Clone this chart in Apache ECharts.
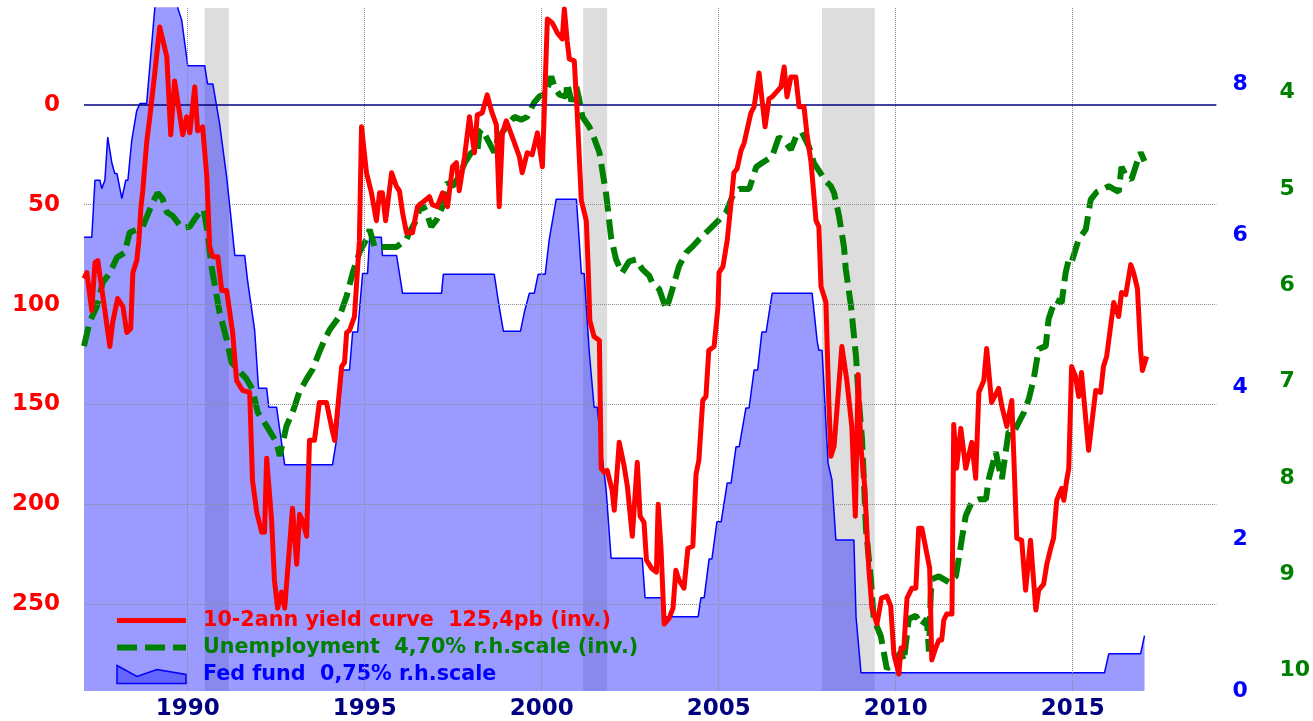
<!DOCTYPE html>
<html>
<head>
<meta charset="utf-8">
<script src="https://cdn.jsdelivr.net/npm/echarts@6/dist/echarts.min.js"></script>
<style>
  html, body { margin: 0; padding: 0; background: #fff; }
  #chart { width: 1313px; height: 721px; }
</style>
</head>
<body>
<div id="chart"></div>
<script>
// tick labels
const yearTicks = [1990, 1995, 2000, 2005, 2010, 2015]
const spreadTicks = [0, 50, 100, 150, 200, 250]
const fedTicks = [0, 2, 4, 6, 8]
const unempTicks = [4, 5, 6, 7, 8, 9, 10]

// recessions (start, end), decimal years
const recessions = [[1990.48, 1991.16], [2001.17, 2001.85], [2007.92, 2009.41]]

const spreadName = '10-2ann yield curve  125,4pb (inv.)'
const unempName = 'Unemployment  4,70% r.h.scale (inv.)'
const fedName = 'Fed fund  0,75% r.h.scale'

// 10y-2y spread, bp (left scale, inverted)
const yieldCurve = [
  [1987.07, 87], [1987.15, 84], [1987.29, 103], [1987.38, 79], [1987.46, 78], [1987.66, 103], [1987.8, 121],
  [1987.88, 109], [1988.02, 97], [1988.17, 101], [1988.28, 114], [1988.39, 112], [1988.45, 84], [1988.56, 78],
  [1988.62, 68], [1988.68, 51], [1988.73, 43], [1988.84, 19], [1988.93, 6], [1989.07, -16], [1989.21, -39],
  [1989.41, -24], [1989.52, 15], [1989.63, -12], [1989.86, 15], [1989.97, 6], [1990.06, 14], [1990.2, -9],
  [1990.28, 13], [1990.42, 11], [1990.54, 36], [1990.62, 71], [1990.71, 76], [1990.85, 76], [1990.96, 93],
  [1991.1, 93], [1991.27, 114], [1991.38, 138], [1991.55, 143], [1991.75, 144], [1991.83, 188], [1991.95, 204],
  [1992.09, 214], [1992.17, 214], [1992.23, 177], [1992.37, 208], [1992.45, 238], [1992.54, 252], [1992.65, 244],
  [1992.74, 252], [1992.96, 202], [1993.08, 230], [1993.16, 205], [1993.24, 208], [1993.36, 216], [1993.44, 168],
  [1993.58, 168], [1993.72, 149], [1993.92, 149], [1994.06, 161], [1994.15, 168], [1994.35, 131], [1994.43, 129],
  [1994.49, 114], [1994.57, 113], [1994.71, 106], [1994.85, 68], [1994.91, 11], [1995.05, 34], [1995.19, 44],
  [1995.33, 58], [1995.42, 44], [1995.5, 44], [1995.59, 58], [1995.76, 34], [1995.9, 41], [1995.98, 43],
  [1996.07, 54], [1996.18, 64], [1996.35, 64], [1996.49, 51], [1996.83, 46], [1996.91, 50], [1997.05, 51],
  [1997.2, 44], [1997.34, 51], [1997.48, 31], [1997.59, 29], [1997.67, 43], [1997.82, 26], [1997.96, 6],
  [1998.1, 24], [1998.18, 5], [1998.32, 4], [1998.46, -5], [1998.58, 3], [1998.72, 10], [1998.8, 51],
  [1998.89, 14], [1999.0, 8], [1999.23, 19], [1999.37, 26], [1999.45, 34], [1999.59, 24], [1999.73, 25],
  [1999.88, 14], [2000.02, 31], [2000.16, -43], [2000.3, -41], [2000.44, -36], [2000.58, -33], [2000.64, -48],
  [2000.72, -32], [2000.78, -23], [2000.92, -22], [2001.0, 3], [2001.12, 48], [2001.26, 58], [2001.31, 80],
  [2001.36, 108], [2001.48, 116], [2001.63, 118], [2001.68, 182], [2001.77, 184], [2001.85, 183], [2001.99, 193],
  [2002.05, 203], [2002.19, 169], [2002.33, 181], [2002.42, 191], [2002.56, 216], [2002.7, 179], [2002.78, 206],
  [2002.89, 209], [2002.96, 228], [2003.1, 232], [2003.24, 234], [2003.29, 200], [2003.37, 222], [2003.46, 260],
  [2003.6, 257], [2003.71, 252], [2003.79, 233], [2003.88, 238], [2004.02, 242], [2004.13, 222], [2004.27, 221],
  [2004.36, 185], [2004.44, 178], [2004.55, 148], [2004.64, 146], [2004.72, 123], [2004.87, 121], [2004.98, 101],
  [2005.01, 84], [2005.12, 81], [2005.24, 68], [2005.35, 49], [2005.43, 34], [2005.52, 32], [2005.63, 23],
  [2005.72, 19], [2005.91, 4], [2006.0, 1], [2006.14, -16], [2006.31, 11], [2006.42, -3], [2006.51, -4],
  [2006.76, -9], [2006.85, -19], [2006.93, -4], [2007.04, -14], [2007.18, -14], [2007.27, 1], [2007.41, 1],
  [2007.49, 14], [2007.61, 29], [2007.75, 58], [2007.83, 61], [2007.89, 91], [2008.03, 99], [2008.11, 148],
  [2008.17, 176], [2008.26, 171], [2008.48, 121], [2008.62, 138], [2008.76, 161], [2008.86, 206], [2008.94, 135],
  [2009.02, 172], [2009.12, 190], [2009.24, 232], [2009.33, 252], [2009.47, 260], [2009.6, 247], [2009.75, 246],
  [2009.86, 251], [2009.95, 275], [2010.09, 285], [2010.15, 272], [2010.23, 272], [2010.32, 247], [2010.46, 242],
  [2010.57, 242], [2010.65, 212], [2010.74, 212], [2010.85, 222], [2010.96, 232], [2011.02, 278], [2011.13, 272],
  [2011.22, 268], [2011.3, 268], [2011.36, 258], [2011.44, 255], [2011.59, 255], [2011.64, 160], [2011.72, 182],
  [2011.84, 162], [2011.98, 182], [2012.15, 169], [2012.26, 187], [2012.35, 144], [2012.49, 138], [2012.57, 122],
  [2012.71, 149], [2012.91, 142], [2013.0, 151], [2013.14, 161], [2013.28, 148], [2013.42, 217], [2013.56, 218],
  [2013.67, 243], [2013.81, 218], [2013.96, 253], [2014.04, 243], [2014.18, 240], [2014.27, 230], [2014.38, 222],
  [2014.46, 217], [2014.55, 198], [2014.69, 192], [2014.75, 198], [2014.83, 188], [2014.89, 182], [2014.97, 131],
  [2015.08, 136], [2015.17, 146], [2015.25, 134], [2015.45, 173], [2015.65, 143], [2015.79, 144], [2015.87, 131],
  [2015.96, 126], [2016.16, 99], [2016.3, 106], [2016.38, 94], [2016.5, 95], [2016.64, 80], [2016.72, 84],
  [2016.83, 92], [2016.92, 123], [2016.97, 133], [2017.09, 126]
]

// unemployment rate, % (right scale, inverted)
const unemployment = [
  [1987.07, 6.63], [1987.23, 6.38], [1987.43, 6.22], [1987.6, 5.97], [1987.8, 5.87], [1988.0, 5.71], [1988.22, 5.66],
  [1988.36, 5.45], [1988.56, 5.42], [1988.73, 5.39], [1989.01, 5.14], [1989.15, 5.04], [1989.29, 5.1], [1989.41, 5.24],
  [1989.58, 5.28], [1989.83, 5.4], [1990.06, 5.39], [1990.2, 5.31], [1990.34, 5.24], [1990.45, 5.21], [1990.56, 5.45],
  [1990.67, 5.8], [1990.9, 6.28], [1991.1, 6.56], [1991.24, 6.8], [1991.41, 6.87], [1991.66, 6.97], [1991.83, 7.08],
  [1991.98, 7.32], [1992.23, 7.46], [1992.51, 7.63], [1992.6, 7.77], [1992.79, 7.46], [1992.96, 7.32], [1993.16, 7.1],
  [1993.36, 6.97], [1993.53, 6.87], [1993.72, 6.69], [1993.87, 6.56], [1994.01, 6.46], [1994.29, 6.32], [1994.49, 6.11],
  [1994.66, 5.87], [1994.85, 5.66], [1995.05, 5.52], [1995.14, 5.42], [1995.28, 5.6], [1995.62, 5.6], [1995.9, 5.6],
  [1996.18, 5.52], [1996.26, 5.45], [1996.46, 5.32], [1996.6, 5.14], [1996.74, 5.24], [1996.88, 5.39], [1997.03, 5.32],
  [1997.2, 5.18], [1997.34, 4.93], [1997.48, 4.97], [1997.67, 4.87], [1997.82, 4.73], [1998.01, 4.62], [1998.18, 4.62],
  [1998.24, 4.41], [1998.32, 4.38], [1998.52, 4.52], [1998.66, 4.62], [1998.75, 4.49], [1998.89, 4.41], [1999.09, 4.31],
  [1999.23, 4.25], [1999.42, 4.28], [1999.59, 4.25], [1999.79, 4.1], [1999.93, 4.04], [2000.13, 4.0], [2000.27, 3.83],
  [2000.36, 3.94], [2000.5, 4.02], [2000.69, 4.04], [2000.72, 3.9], [2000.84, 4.09], [2000.98, 3.94], [2001.06, 4.07],
  [2001.15, 4.25], [2001.34, 4.35], [2001.43, 4.42], [2001.63, 4.62], [2001.82, 5.05], [2001.96, 5.5], [2002.1, 5.73],
  [2002.27, 5.87], [2002.47, 5.75], [2002.67, 5.73], [2002.84, 5.83], [2003.04, 5.9], [2003.12, 5.97], [2003.32, 6.04],
  [2003.52, 6.25], [2003.69, 6.04], [2003.88, 5.8], [2004.08, 5.66], [2004.25, 5.6], [2004.45, 5.52], [2004.73, 5.42],
  [2005.01, 5.32], [2005.21, 5.24], [2005.38, 5.08], [2005.58, 5.0], [2005.86, 5.0], [2006.06, 4.77], [2006.22, 4.73],
  [2006.51, 4.66], [2006.7, 4.46], [2006.9, 4.52], [2007.04, 4.59], [2007.18, 4.46], [2007.35, 4.41], [2007.55, 4.56],
  [2007.69, 4.73], [2008.03, 4.92], [2008.17, 4.97], [2008.26, 5.04], [2008.4, 5.28], [2008.54, 5.6], [2008.59, 5.83],
  [2008.74, 6.22], [2008.88, 6.74], [2008.95, 7.15], [2009.05, 7.6], [2009.1, 8.0], [2009.16, 8.53], [2009.3, 9.05],
  [2009.38, 9.46], [2009.58, 9.64], [2009.75, 9.98], [2010.01, 9.88], [2010.15, 9.8], [2010.23, 9.9], [2010.37, 9.46],
  [2010.57, 9.43], [2010.74, 9.53], [2010.88, 9.46], [2010.94, 9.8], [2010.99, 9.22], [2011.02, 9.05], [2011.22, 9.02],
  [2011.5, 9.08], [2011.7, 9.02], [2011.78, 8.84], [2011.87, 8.63], [2011.98, 8.39], [2012.15, 8.25], [2012.35, 8.22],
  [2012.55, 8.22], [2012.63, 8.01], [2012.83, 7.73], [2012.91, 7.88], [2013.0, 8.01], [2013.19, 7.52], [2013.34, 7.52],
  [2013.62, 7.32], [2013.76, 7.18], [2013.9, 6.97], [2014.04, 6.66], [2014.24, 6.63], [2014.32, 6.35], [2014.41, 6.25],
  [2014.52, 6.15], [2014.69, 6.18], [2014.8, 5.87], [2014.89, 5.73], [2014.97, 5.76], [2015.17, 5.52], [2015.37, 5.42],
  [2015.51, 5.11], [2015.68, 5.03], [2016.02, 4.97], [2016.3, 5.03], [2016.38, 4.77], [2016.52, 4.87], [2016.66, 4.9],
  [2016.81, 4.73], [2016.92, 4.62], [2017.03, 4.71]
]

// fed funds rate, % (right scale)
const fedFunds = [
  [1987.07, 5.98], [1987.29, 5.98], [1987.38, 6.73], [1987.52, 6.73], [1987.57, 6.62], [1987.66, 6.73], [1987.74, 7.3],
  [1987.86, 6.95], [1987.94, 6.82], [1988.0, 6.82], [1988.14, 6.49], [1988.25, 6.73], [1988.31, 6.73], [1988.42, 7.26],
  [1988.56, 7.65], [1988.65, 7.74], [1988.84, 7.74], [1989.07, 9.0], [1989.15, 9.4], [1989.3, 9.8], [1989.45, 9.8],
  [1989.58, 9.4], [1989.72, 9.0], [1989.83, 8.84], [1990.0, 8.24], [1990.48, 8.24], [1990.56, 8.0], [1990.71, 8.0],
  [1990.9, 7.48], [1991.1, 6.77], [1991.19, 6.38], [1991.33, 5.74], [1991.61, 5.74], [1991.69, 5.41], [1991.89, 4.76],
  [1992.0, 3.99], [1992.23, 3.99], [1992.29, 3.74], [1992.51, 3.74], [1992.74, 2.98], [1994.09, 2.98], [1994.2, 3.3],
  [1994.37, 4.23], [1994.57, 4.23], [1994.66, 4.73], [1994.8, 4.73], [1994.94, 5.5], [1995.08, 5.5], [1995.14, 5.98],
  [1995.47, 5.98], [1995.5, 5.74], [1995.9, 5.74], [1996.07, 5.24], [1997.17, 5.24], [1997.22, 5.49], [1998.66, 5.49],
  [1998.8, 5.06], [1998.92, 4.74], [1999.4, 4.74], [1999.51, 4.99], [1999.65, 5.24], [1999.79, 5.24], [1999.9, 5.49],
  [2000.1, 5.49], [2000.21, 5.94], [2000.41, 6.48], [2000.98, 6.48], [2001.06, 5.94], [2001.12, 5.5], [2001.2, 5.5],
  [2001.34, 4.49], [2001.48, 3.74], [2001.57, 3.74], [2001.71, 3.09], [2001.82, 2.65], [2001.96, 1.75], [2002.84, 1.75],
  [2002.92, 1.23], [2003.4, 1.23], [2003.49, 0.98], [2004.42, 0.98], [2004.5, 1.23], [2004.59, 1.23], [2004.73, 1.74],
  [2004.81, 1.74], [2004.95, 2.23], [2005.07, 2.23], [2005.24, 2.74], [2005.35, 2.74], [2005.49, 3.22], [2005.58, 3.22],
  [2005.77, 3.73], [2005.86, 3.73], [2006.0, 4.23], [2006.1, 4.23], [2006.22, 4.73], [2006.34, 4.73], [2006.51, 5.24],
  [2007.64, 5.24], [2007.78, 4.62], [2007.83, 4.49], [2007.92, 4.49], [2008.09, 3.0], [2008.2, 2.78], [2008.31, 1.99],
  [2008.82, 1.99], [2008.88, 0.98], [2009.02, 0.24], [2015.9, 0.24], [2016.02, 0.49], [2016.92, 0.49], [2017.03, 0.73]
]

const font = 'DejaVu Sans'
const fedFill = 'rgba(40,40,255,0.47)'
const noSymbol = { color: 'rgba(0,0,0,0)', borderWidth: 0 }

const chart = echarts.init(document.getElementById('chart'))
chart.setOption({
  animation: false,
  backgroundColor: '#fff',
  grid: { left: 84, right: 95, top: 8, bottom: 29 },
  legend: {
    orient: 'vertical',
    left: 114,
    top: 610,
    padding: 0,
    itemWidth: 69,
    itemHeight: 18,
    itemGap: 6,
    symbolKeepAspect: false,
    textStyle: { fontFamily: font, fontWeight: 'bold', fontSize: 20.7, lineHeight: 20, padding: [0, 0, 0, 12] },
    data: [
      {
        name: spreadName,
        itemStyle: noSymbol,
        lineStyle: { width: 5, color: '#ff0000', type: 'solid' },
        textStyle: { color: '#ff0000' }
      },
      {
        name: unempName,
        itemStyle: noSymbol,
        lineStyle: { width: 6, color: '#008000', type: [20, 8], cap: 'butt' },
        textStyle: { color: '#008000' }
      },
      {
        name: fedName,
        icon: 'path://M0,0 L20,11 L40,4 L69,9 L69,18 L0,18 Z',
        itemStyle: { color: fedFill, borderColor: '#0000ff', borderWidth: 1.5 },
        textStyle: { color: '#0000ff' }
      }
    ]
  },
  xAxis: {
    type: 'value',
    min: 1987.07,
    max: 2019.06,
    axisLine: { show: false },
    axisTick: { show: false },
    splitLine: { show: false },
    axisLabel: {
      customValues: yearTicks,
      formatter: v => String(v),
      margin: 7,
      color: '#000080',
      fontFamily: font,
      fontWeight: 'bold',
      fontSize: 23
    }
  },
  yAxis: [
    {
      // spread, bp, inverted
      type: 'value',
      position: 'left',
      inverse: true,
      min: -48.5,
      max: 293.5,
      axisLine: { show: false },
      axisTick: { show: false },
      splitLine: { show: false },
      axisLabel: {
        customValues: spreadTicks,
        margin: 24,
        color: '#ff0000',
        fontFamily: font,
        fontWeight: 'bold',
        fontSize: 23
      }
    },
    {
      // fed funds
      type: 'value',
      position: 'right',
      min: 0,
      max: 9,
      axisLine: { show: false },
      axisTick: { show: false },
      splitLine: { show: false },
      axisLabel: {
        customValues: fedTicks,
        margin: 16,
        color: '#0000ff',
        fontFamily: font,
        fontWeight: 'bold',
        fontSize: 22
      }
    },
    {
      // unemployment, inverted
      type: 'value',
      position: 'right',
      inverse: true,
      min: 3.12,
      max: 10.21,
      axisLine: { show: false },
      axisTick: { show: false },
      splitLine: { show: false },
      axisLabel: {
        customValues: unempTicks,
        margin: 63,
        color: '#008000',
        fontFamily: font,
        fontWeight: 'bold',
        fontSize: 22
      }
    }
  ],
  series: [
    {
      // recession bands and dotted grid
      name: 'bg',
      type: 'line',
      data: [],
      yAxisIndex: 0,
      z: 1,
      silent: true,
      markArea: {
        silent: true,
        itemStyle: { color: '#dddddd' },
        data: recessions.map(r => [{ xAxis: r[0] }, { xAxis: r[1] }])
      },
      markLine: {
        silent: true,
        symbol: 'none',
        label: { show: false },
        lineStyle: { type: 'dotted', color: '#8c8c8c', width: 1 },
        data: yearTicks.map(y => ({ xAxis: y }))
          .concat(spreadTicks.filter(v => v !== 0).map(v => ({ yAxis: v })))
      }
    },
    {
      name: fedName,
      type: 'line',
      yAxisIndex: 1,
      data: fedFunds,
      symbol: 'none',
      z: 2,
      lineStyle: { color: '#0000ff', width: 1.5 },
      itemStyle: { color: fedFill, borderColor: '#0000ff' },
      areaStyle: { color: fedFill, opacity: 1, origin: 'start' }
    },
    {
      // zero line of the spread scale
      name: 'zero',
      type: 'line',
      data: [],
      yAxisIndex: 0,
      z: 3,
      silent: true,
      markLine: {
        silent: true,
        symbol: 'none',
        label: { show: false },
        lineStyle: { type: 'solid', color: '#000080', width: 1.5 },
        data: [{ yAxis: 0 }]
      }
    },
    {
      name: unempName,
      type: 'line',
      yAxisIndex: 2,
      data: unemployment,
      symbol: 'none',
      z: 4,
      itemStyle: { color: '#008000' },
      lineStyle: { color: '#008000', width: 6, type: [20, 8], cap: 'butt' }
    },
    {
      name: spreadName,
      type: 'line',
      yAxisIndex: 0,
      data: yieldCurve,
      symbol: 'none',
      z: 5,
      itemStyle: { color: '#ff0000' },
      lineStyle: { color: '#ff0000', width: 5, join: 'round' }
    }
  ]
})
</script>
</body>
</html>
